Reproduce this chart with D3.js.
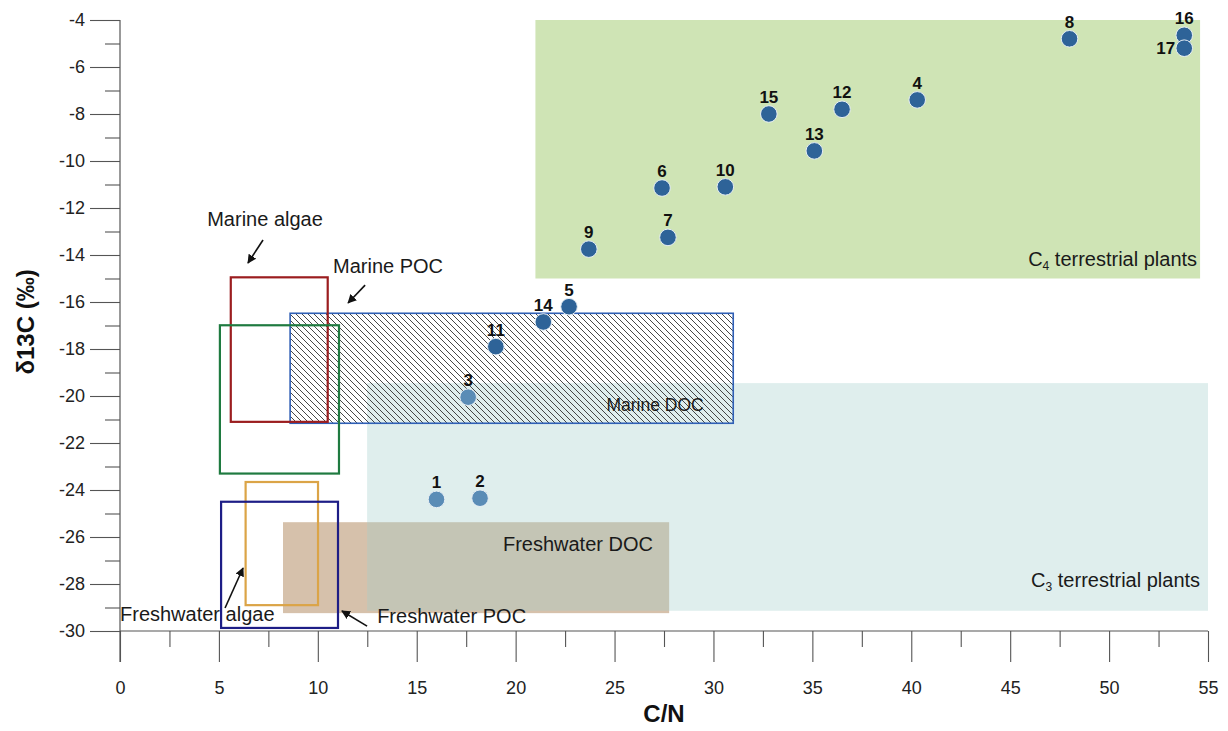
<!DOCTYPE html>
<html>
<head>
<meta charset="utf-8">
<script src="https://cdn.jsdelivr.net/npm/d3@7/dist/d3.min.js"></script>
<style>
  html, body { margin: 0; padding: 0; background: #ffffff; }
  svg { display: block; }
  text { font-family: "Liberation Sans", Arial, sans-serif; }
</style>
</head>
<body>
<svg id="chart" width="1228" height="731"></svg>
<script>
// ---------------- data ----------------
const xTickValues = [0, 5, 10, 15, 20, 25, 30, 35, 40, 45, 50, 55];
const xMinorTicks = [2.5, 7.5, 12.5, 17.5, 22.5, 27.5, 32.5, 37.5, 42.5, 47.5, 52.5];
const yTickValues = [-30, -28, -26, -24, -22, -20, -18, -16, -14, -12, -10, -8, -6, -4];
const yMinorTicks = [-29, -27, -25, -23, -21, -19, -17, -15, -13, -11, -9, -7, -5];

const sampleIds = ["1", "2", "3", "4", "5", "6", "7", "8", "9", "10", "11", "12", "13", "14", "15", "16", "17"];
const sampleCN = [16.0, 18.2, 17.6, 40.3, 22.7, 27.4, 27.7, 48.0, 23.7, 30.6, 19.0, 36.5, 35.1, 21.4, 32.8, 53.8, 53.8];
const sampleD13C = [-24.4, -24.35, -20.05, -7.4, -16.2, -11.15, -13.25, -4.8, -13.75, -11.1, -17.9, -7.8, -9.57, -16.85, -8.0, -4.65, -5.2];
const lightSamples = ["1", "2", "3"];
const leftLabelSamples = ["17"];

// filled source ranges: [name, C/N min, C/N max, d13C min, d13C max]
const filledRegions = [
  ["C4 terrestrial plants", 21.0, 54.6, -15.0, -4.0],
  ["Freshwater DOC", 8.24, 27.76, -29.24, -25.37],
  ["C3 terrestrial plants", 12.49, 55.0, -29.14, -19.45]
];
// outlined source boxes
const boxRegions = [
  ["Marine DOC", 8.6, 31.0, -21.16, -16.48],
  ["Marine algae", 5.6, 10.5, -21.1, -14.95],
  ["Marine POC", 5.05, 11.07, -23.3, -16.99],
  ["Freshwater algae", 6.35, 10.01, -28.9, -23.66],
  ["Freshwater POC", 5.11, 11.02, -29.87, -24.5]
];
// annotation texts: [text, C/N, d13C, anchor]
const annotations = [
  ["Marine algae", 7.33, -12.77, "middle"],
  ["Marine POC", 13.55, -14.77, "middle"],
  ["Marine DOC", 27.05, -20.64, "middle"],
  ["Freshwater DOC", 23.15, -26.6, "middle"],
  ["Freshwater algae", 0.0, -29.57, "start"],
  ["Freshwater POC", 13.0, -29.66, "start"]
];
const subLabels = [
  ["C", "4", " terrestrial plants", 54.45, -14.47],
  ["C", "3", " terrestrial plants", 54.6, -28.13]
];
// arrows: [x from, y from, x to, y to]
const arrows = [
  [7.23, -13.36, 6.47, -14.34],
  [12.39, -15.28, 11.53, -16.04],
  [5.31, -29.02, 6.22, -27.32],
  [12.49, -29.79, 11.22, -29.15]
];

// ---------------- styles ----------------
const fillColors = {
  "C4 terrestrial plants": "#cfe4b5",
  "Freshwater DOC": "#d6c1ab",
  "C3 terrestrial plants": "rgba(161,205,202,0.34)"
};
const boxColors = {
  "Marine DOC": "#2f5fb5",
  "Marine algae": "#9b1d1f",
  "Marine POC": "#1f7a40",
  "Freshwater algae": "#dba447",
  "Freshwater POC": "#1d1d86"
};
const annotationSize = { "Marine DOC": 17.5 };

// ---------------- chart ----------------
const svg = d3.select("#chart");
const x = d3.scaleLinear().domain([0, 55]).range([120, 1208]);
const y = d3.scaleLinear().domain([-30, -4]).range([631, 20]);
const fmt = d => String(d);

const defs = svg.append("defs");
const pat = defs.append("pattern")
  .attr("id", "hatch").attr("patternUnits", "userSpaceOnUse")
  .attr("width", 6).attr("height", 6);
pat.append("path")
  .attr("d", "M0,0 L6,6 M-1,5 L1,7 M5,-1 L7,1")
  .attr("stroke", "#333").attr("stroke-width", 0.9);
defs.append("marker")
  .attr("id", "arrowhead").attr("viewBox", "0 0 10 10")
  .attr("refX", 9).attr("refY", 5)
  .attr("markerWidth", 9).attr("markerHeight", 9)
  .attr("markerUnits", "userSpaceOnUse")
  .attr("orient", "auto")
  .append("path").attr("d", "M0,0 L10,5 L0,10 z").attr("fill", "#111");

// filled regions
svg.append("g").selectAll("rect").data(filledRegions).join("rect")
  .attr("x", d => x(d[1])).attr("y", d => y(d[4]))
  .attr("width", d => x(d[2]) - x(d[1])).attr("height", d => y(d[3]) - y(d[4]))
  .attr("fill", d => fillColors[d[0]]);

// outlined boxes
svg.append("g").selectAll("rect").data(boxRegions).join("rect")
  .attr("x", d => x(d[1])).attr("y", d => y(d[4]))
  .attr("width", d => x(d[2]) - x(d[1])).attr("height", d => y(d[3]) - y(d[4]))
  .attr("fill", d => d[0] === "Marine DOC" ? "url(#hatch)" : "none")
  .attr("stroke", d => boxColors[d[0]])
  .attr("stroke-width", d => d[0] === "Marine DOC" ? 1.6 : 2.2);

// axes
const axisColor = "#555";
const gx = svg.append("g").attr("transform", `translate(0,${y(-30)})`)
  .call(d3.axisBottom(x).tickValues(xTickValues).tickSize(31).tickPadding(19).tickFormat(fmt));
const gxm = svg.append("g").attr("transform", `translate(0,${y(-30)})`)
  .call(d3.axisBottom(x).tickValues(xMinorTicks).tickSize(16).tickFormat(""));
const gy = svg.append("g").attr("transform", `translate(${x(0)},0)`)
  .call(d3.axisLeft(y).tickValues(yTickValues).tickSize(30).tickPadding(5).tickFormat(fmt));
const gym = svg.append("g").attr("transform", `translate(${x(0)},0)`)
  .call(d3.axisLeft(y).tickValues(yMinorTicks).tickSize(15).tickFormat(""));
[gx, gxm, gy, gym].forEach(g => {
  g.select(".domain").remove();
  g.selectAll(".tick line").attr("stroke", axisColor).attr("stroke-width", 1.1);
  g.selectAll("text").attr("fill", "#222").attr("font-size", 18)
    .attr("font-family", "'Liberation Sans', Arial, sans-serif");
});
svg.append("line").attr("x1", x(0)).attr("x2", x(55)).attr("y1", y(-30)).attr("y2", y(-30))
  .attr("stroke", axisColor).attr("stroke-width", 1.2);
svg.append("line").attr("x1", x(0)).attr("x2", x(0)).attr("y1", y(-4)).attr("y2", y(-30) + 31)
  .attr("stroke", axisColor).attr("stroke-width", 1.2);

// axis titles
svg.append("text").attr("x", x(27.5)).attr("y", 722).attr("text-anchor", "middle")
  .attr("font-size", 24).attr("font-weight", "bold").attr("fill", "#111").text("C/N");
svg.append("text").attr("transform", `translate(34,${322}) rotate(-90)`).attr("text-anchor", "middle")
  .attr("font-size", 24).attr("font-weight", "bold").attr("fill", "#111").text("δ13C (‰)");

// arrows
svg.append("g").selectAll("line").data(arrows).join("line")
  .attr("x1", d => x(d[0])).attr("y1", d => y(d[1]))
  .attr("x2", d => x(d[2])).attr("y2", d => y(d[3]))
  .attr("stroke", "#111").attr("stroke-width", 1.6)
  .attr("marker-end", "url(#arrowhead)");

// annotation texts
svg.append("g").selectAll("text").data(annotations).join("text")
  .attr("x", d => x(d[1])).attr("y", d => y(d[2]))
  .attr("text-anchor", d => d[3])
  .attr("font-size", d => annotationSize[d[0]] || 20).attr("fill", "#1a1a1a").text(d => d[0]);

const sl = svg.append("g").selectAll("text").data(subLabels).join("text")
  .attr("x", d => x(d[3])).attr("y", d => y(d[4]))
  .attr("text-anchor", "end").attr("font-size", 20).attr("fill", "#1a1a1a");
sl.append("tspan").text(d => d[0]);
sl.append("tspan").attr("font-size", 12).attr("dy", 4).text(d => d[1]);
sl.append("tspan").attr("dy", -4).text(d => d[2]);

// points
const samples = sampleIds.map((id, i) => ({ id, cn: sampleCN[i], d13c: sampleD13C[i] }));
svg.append("g").selectAll("circle").data(samples).join("circle")
  .attr("cx", d => x(d.cn)).attr("cy", d => y(d.d13c)).attr("r", 8.3)
  .attr("fill", d => lightSamples.includes(d.id) ? "#5a8cb6" : "#2e6398")
  .attr("stroke", "#e6eef5").attr("stroke-width", 1);

svg.append("g").selectAll("text").data(samples).join("text")
  .attr("x", d => leftLabelSamples.includes(d.id) ? x(d.cn) - 9 : x(d.cn))
  .attr("y", d => leftLabelSamples.includes(d.id) ? y(d.d13c) + 6 : y(d.d13c) - 11)
  .attr("text-anchor", d => leftLabelSamples.includes(d.id) ? "end" : "middle")
  .attr("font-family", "'Liberation Sans Narrow', 'Arial Narrow', 'Liberation Sans', sans-serif")
  .attr("font-size", 17).attr("font-weight", "bold").attr("fill", "#111")
  .text(d => d.id);
</script>
</body>
</html>
